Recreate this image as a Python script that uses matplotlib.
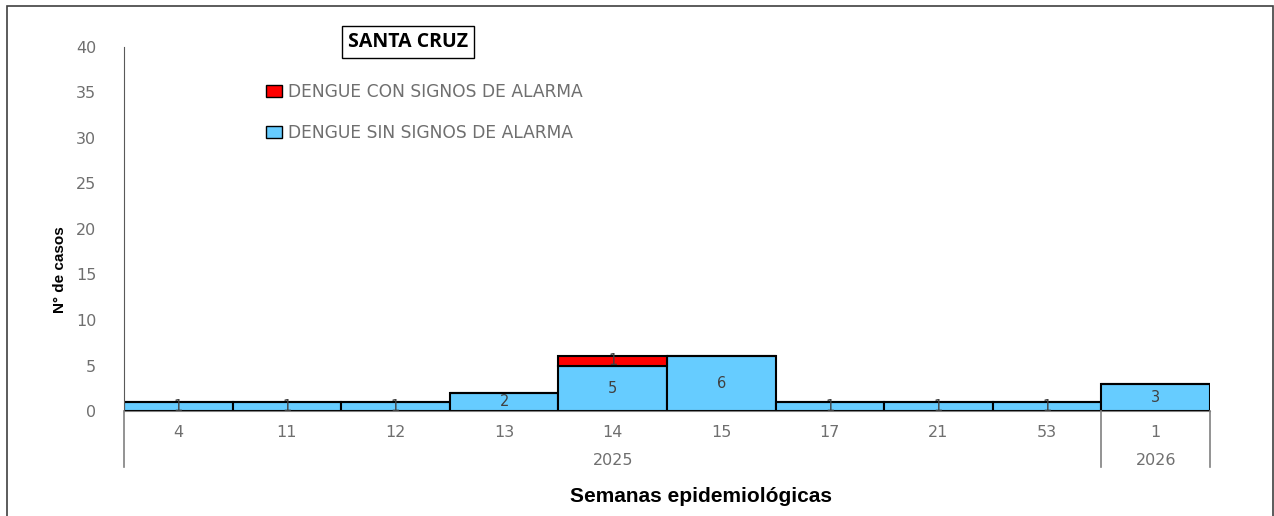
import matplotlib.pyplot as plt
import matplotlib.patches as mpatches
from matplotlib.lines import Line2D

# semanas epidemiológicas y años
semanas = ['4', '11', '12', '13', '14', '15', '17', '21', '53', '1']
anios = ['2025'] * 9 + ['2026']
sin_alarma = [1, 1, 1, 2, 5, 6, 1, 1, 1, 3]
con_alarma = [0, 0, 0, 0, 1, 0, 0, 0, 0, 0]

azul = '#66CCFF'
rojo = '#FF0000'
gris = '#6f6f6f'

plt.rcParams['font.family'] = ['DejaVu Sans']

fig = plt.figure(figsize=(12.74, 5.16), dpi=100)
ax = fig.add_axes([124 / 1274, 1 - 411 / 516, (1210 - 124) / 1274, (411 - 47) / 516])

x = list(range(len(semanas)))
ax.bar(x, sin_alarma, width=1.0, color=azul, edgecolor='black', linewidth=1.5)
ax.bar(x, con_alarma, width=1.0, bottom=sin_alarma, color=rojo, edgecolor='black', linewidth=1.5)

for i, v in enumerate(sin_alarma):
    if v > 0:
        ax.text(i, v / 2, str(v), ha='center', va='center', fontsize=10.5, color='#404040')
for i, v in enumerate(con_alarma):
    if v > 0:
        ax.text(i, sin_alarma[i] + v / 2, str(v), ha='center', va='center', fontsize=10.5, color='#404040')

ax.set_xlim(-0.5, len(semanas) - 0.5)
ax.set_ylim(0, 40)
ax.set_yticks(range(0, 41, 5))
ax.tick_params(axis='y', length=0, pad=20, labelsize=11.5, labelcolor=gris)
ax.set_xticks([])
for s in ['top', 'right']:
    ax.spines[s].set_visible(False)
ax.spines['left'].set_color('#595959')
ax.spines['bottom'].set_color('#808080')

# etiquetas de categorías (semana / año)
trans = ax.get_xaxis_transform()
for i, s in enumerate(semanas):
    ax.text(i, -0.06, s, transform=trans, ha='center', va='center', fontsize=11.5, color=gris)
ax.text(4, -0.135, '2025', transform=trans, ha='center', va='center', fontsize=11.5, color=gris)
ax.text(9, -0.135, '2026', transform=trans, ha='center', va='center', fontsize=11.5, color=gris)
for xv in [-0.5, 8.5, 9.5]:
    ax.add_line(Line2D([xv, xv], [0, -0.155], transform=trans, color='#808080',
                       linewidth=1.2, clip_on=False))

fig.text(60 / 1274, 1 - 270 / 516, 'N° de casos', rotation=90, ha='center', va='center',
         fontsize=11, fontweight='bold', family='Liberation Sans')
fig.text(701 / 1274, 1 - 496 / 516, 'Semanas epidemiológicas', ha='center', va='center',
         fontsize=15, fontweight='bold', family='Liberation Sans')
fig.text(408 / 1274, 1 - 42 / 516, 'SANTA CRUZ', ha='center', va='center',
         fontsize=14, fontweight='bold', family='Open Sans',
         bbox=dict(boxstyle='square,pad=0.3', facecolor='white', edgecolor='black', linewidth=1))

handles = [mpatches.Patch(facecolor=rojo, edgecolor='black', label='DENGUE CON SIGNOS DE ALARMA'),
           mpatches.Patch(facecolor=azul, edgecolor='black', label='DENGUE SIN SIGNOS DE ALARMA')]
fig.legend(handles=handles, loc='upper left', bbox_to_anchor=(251 / 1274, 1 - 68 / 516),
           frameon=False, handlelength=0.9, handleheight=0.7, handletextpad=0.35,
           labelspacing=1.3, prop={'size': 12.3, 'family': 'DejaVu Sans'}, labelcolor=gris)

# marco exterior
fig.add_artist(mpatches.Rectangle((7 / 1274, -0.05), 1266 / 1274, 1.05 - 6 / 516,
                                  transform=fig.transFigure, fill=False,
                                  edgecolor='#404040', linewidth=1.2))

fig.savefig('out.png', dpi=100)
